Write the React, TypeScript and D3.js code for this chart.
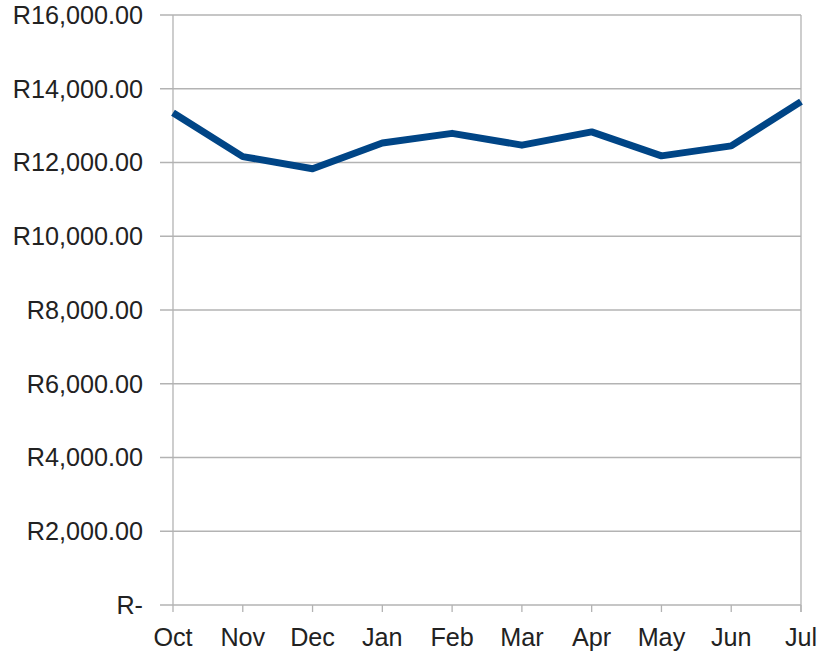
import React from "react";
import * as d3 from "d3";

// Monthly totals (Rand)
const months = ["Oct", "Nov", "Dec", "Jan", "Feb", "Mar", "Apr", "May", "Jun", "Jul"];
const amounts = [13350, 12160, 11830, 12530, 12790, 12470, 12830, 12180, 12450, 13650];
const yTicks = [0, 2000, 4000, 6000, 8000, 10000, 12000, 14000, 16000];

const W = 821;
const H = 654;
const left = 173;
const right = 801;
const top = 15;
const bottom = 605;

const fmtRand = (v: number) =>
  v === 0 ? "R-" : "R" + d3.format(",.2f")(v);

export default function App() {
  const x = d3.scalePoint<string>().domain(months).range([left, right]);
  const y = d3.scaleLinear().domain([0, 16000]).range([bottom, top]);
  const line = d3
    .line<number>()
    .x((_, i) => x(months[i]) as number)
    .y((d) => y(d));

  const font = "'Liberation Sans', Arial, sans-serif";
  const grid = "#b3b3b3";

  return (
    <svg
      width={W}
      height={H}
      style={{ position: "absolute", left: 0, top: 0, background: "#fff" }}
    >
      {yTicks.map((t) => (
        <g key={t}>
          <line x1={left - 13} x2={right} y1={y(t)} y2={y(t)} stroke={grid} strokeWidth={1.3} />
          <text
            x={left - 30}
            y={y(t)}
            dy="0.35em"
            textAnchor="end"
            fontFamily={font}
            fontSize={25.2}
            fill="#222"
          >
            {fmtRand(t)}
          </text>
        </g>
      ))}
      <line x1={left} x2={left} y1={top} y2={bottom} stroke={grid} strokeWidth={1.3} />
      <line x1={right} x2={right} y1={top} y2={bottom + 7} stroke={grid} strokeWidth={1.3} />
      {months.map((m) => (
        <g key={m}>
          <line
            x1={x(m)}
            x2={x(m)}
            y1={bottom}
            y2={bottom + 7}
            stroke={grid}
            strokeWidth={1.3}
          />
          <text
            x={x(m)}
            y={646}
            textAnchor="middle"
            fontFamily={font}
            fontSize={25.2}
            fill="#222"
          >
            {m}
          </text>
        </g>
      ))}
      <path
        d={line(amounts) ?? ""}
        fill="none"
        stroke="#004586"
        strokeWidth={7}
        strokeLinejoin="round"
        strokeLinecap="butt"
      />
    </svg>
  );
}
